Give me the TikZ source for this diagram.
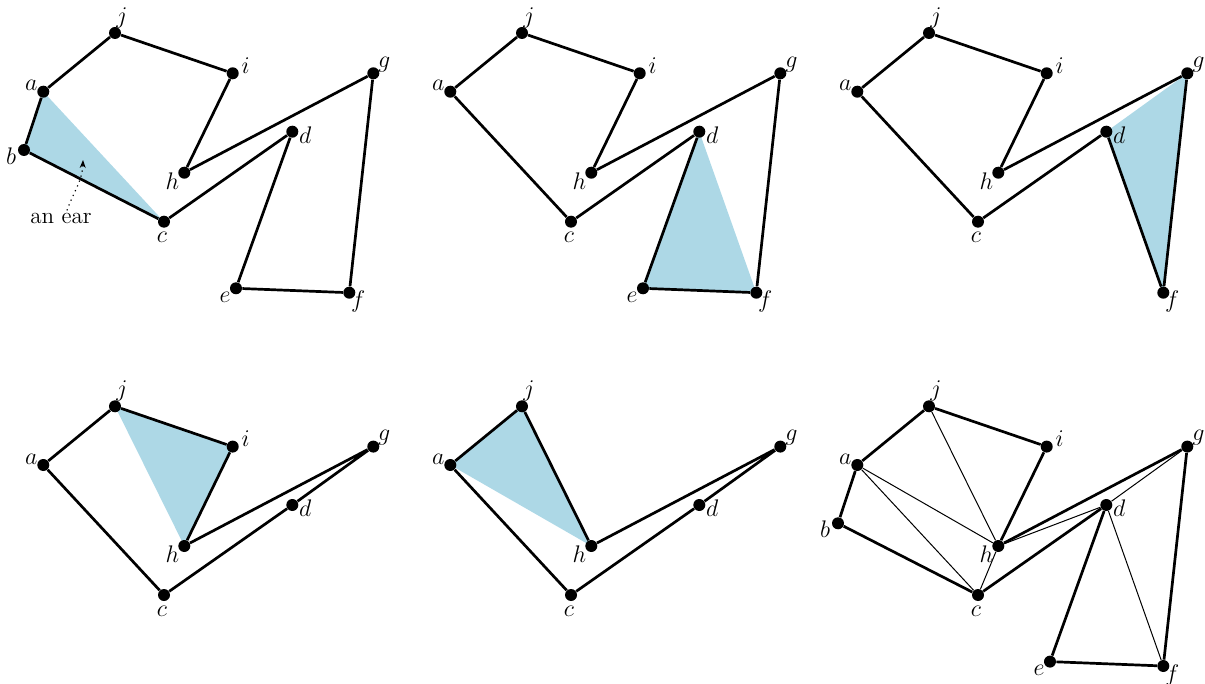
\documentclass[tikz,border=0pt]{standalone}
\usetikzlibrary{arrows.meta,backgrounds}
\definecolor{earblue}{RGB}{173,216,230}
\tikzset{
  x=0.5pt, y=-0.5pt,
  dot/.style={circle,fill=black,inner sep=0pt,minimum size=6pt},
  lbl/.style={font=\large,inner sep=0pt},
  edge/.style={line width=1.35pt,line join=round},
  diag/.style={line width=0.5pt},
  earfill/.style={fill=earblue},
}
\newcommand\vtx[5]{\node[dot,label={[lbl,xshift=#4pt,yshift=#5pt]center:$#1$}] (#1) at (#2,#3) {};}
\newcommand\vxA{\vtx{a}{43.3}{91.7}{-6}{3}}
\newcommand\vxB{\vtx{b}{24}{150}{-6.5}{-3}}
\newcommand\vxC{\vtx{c}{164}{221.7}{-1}{-8}}
\newcommand\vxD{\vtx{d}{292.3}{131.7}{6.5}{-1.5}}
\newcommand\vxE{\vtx{e}{236}{288.3}{-5.5}{-4.5}}
\newcommand\vxF{\vtx{f}{349.3}{292.7}{4.5}{-4.5}}
\newcommand\vxG{\vtx{g}{373.3}{73.3}{5.5}{4.5}}
\newcommand\vxH{\vtx{h}{184.3}{172.7}{-6}{-4}}
\newcommand\vxI{\vtx{i}{232.7}{73.3}{6.5}{4}}
\newcommand\vxJ{\vtx{j}{115}{33}{3.5}{7.5}}
\begin{document}
\begin{tikzpicture}
\useasboundingbox (0,0) rectangle (1205,684);

% Panel 1
\begin{scope}[name prefix=A-]
  \vxA \vxB \vxC \vxD \vxE \vxF \vxG \vxH \vxI \vxJ
  \begin{scope}[on background layer]
    \fill[earfill] (a.center) -- (b.center) -- (c.center) -- cycle;
  \end{scope}
  \draw[edge] (a) -- (b) -- (c) -- (d) -- (e) -- (f) -- (g) -- (h) -- (i) -- (j) -- (a);
  \node[font=\fontsize{11.5}{13}\selectfont, inner sep=1pt] (ear) at (61,218) {an ear};
  \coordinate (eartip) at (83,160);
  \draw[dotted, line width=0.6pt, -{Stealth[length=4pt,width=3pt]}]
    ([xshift=3pt]ear.north) to[out=70,in=-92] (eartip);
\end{scope}

% Panel 2
\begin{scope}[shift={(407,0)}, name prefix=B-]
  \vxA \vxC \vxD \vxE \vxF \vxG \vxH \vxI \vxJ
  \begin{scope}[on background layer]
    \fill[earfill] (d.center) -- (e.center) -- (f.center) -- cycle;
  \end{scope}
  \draw[edge] (a) -- (c) -- (d) -- (e) -- (f) -- (g) -- (h) -- (i) -- (j) -- (a);
\end{scope}

% Panel 3
\begin{scope}[shift={(814,0)}, name prefix=C-]
  \vxA \vxC \vxD \vxF \vxG \vxH \vxI \vxJ
  \begin{scope}[on background layer]
    \fill[earfill] (d.center) -- (f.center) -- (g.center) -- cycle;
  \end{scope}
  \draw[edge] (a) -- (c) -- (d) -- (f) -- (g) -- (h) -- (i) -- (j) -- (a);
\end{scope}

% Panel 4
\begin{scope}[shift={(0,373.3)}, name prefix=D-]
  \vxA \vxC \vxD \vxG \vxH \vxI \vxJ
  \begin{scope}[on background layer]
    \fill[earfill] (h.center) -- (i.center) -- (j.center) -- cycle;
  \end{scope}
  \draw[edge] (a) -- (c) -- (d) -- (g) -- (h) -- (i) -- (j) -- (a);
\end{scope}

% Panel 5
\begin{scope}[shift={(407,373.3)}, name prefix=E-]
  \vxA \vxC \vxD \vxG \vxH \vxJ
  \begin{scope}[on background layer]
    \fill[earfill] (a.center) -- (j.center) -- (h.center) -- cycle;
  \end{scope}
  \draw[edge] (a) -- (c) -- (d) -- (g) -- (h) -- (j) -- (a);
\end{scope}

% Panel 6
\begin{scope}[shift={(814,373.3)}, name prefix=F-]
  \vxA \vxB \vxC \vxD \vxE \vxF \vxG \vxH \vxI \vxJ
  \draw[edge] (a) -- (b) -- (c) -- (d) -- (e) -- (f) -- (g) -- (h) -- (i) -- (j) -- (a);
  \draw[diag] (a) -- (h);
  \draw[diag] (a) -- (c);
  \draw[diag] (j) -- (h);
  \draw[diag] (c) -- (h);
  \draw[diag] (h) -- (d);
  \draw[diag] (d) -- (g);
  \draw[diag] (d) -- (f);
\end{scope}
\end{tikzpicture}
\end{document}
